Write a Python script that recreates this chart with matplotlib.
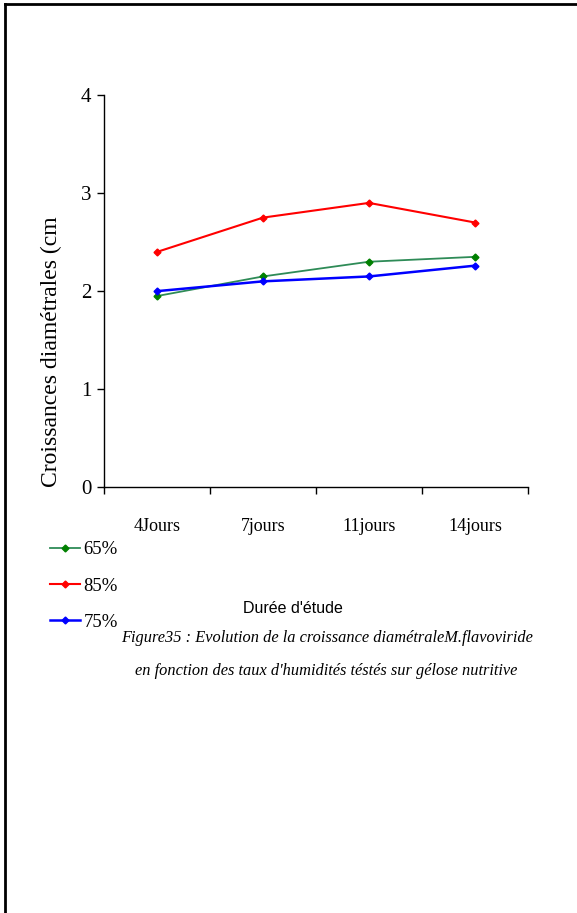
import matplotlib

matplotlib.use("Agg")
from matplotlib import pyplot as plt
from matplotlib.lines import Line2D

days = ["4Jours", "7jours", "11jours", "14jours"]
humidity_65 = [1.95, 2.15, 2.30, 2.35]
humidity_85 = [2.40, 2.75, 2.90, 2.70]
humidity_75 = [2.00, 2.10, 2.15, 2.26]
y_ticks = [0, 1, 2, 3, 4]

SERIF = "Liberation Serif"

figure = plt.figure(figsize=(5.77, 9.13), dpi=100)
axis = figure.add_axes([0.1802, 0.4663, 0.7348, 0.4296])

positions = range(len(days))
axis.plot(positions, humidity_65, color="#2e8b57", linewidth=1.3,
          marker="D", markersize=3.5, markerfacecolor="#008000",
          markeredgecolor="#008000", label="65%")
axis.plot(positions, humidity_85, color="#ff0000", linewidth=1.5,
          marker="D", markersize=3.5, label="85%")
axis.plot(positions, humidity_75, color="#0000ff", linewidth=1.8,
          marker="D", markersize=3.5, label="75%")

axis.set_xlim(-0.5, len(days) - 0.5)
axis.set_ylim(0, 4)
axis.set_yticks(y_ticks)
axis.set_yticklabels([str(t) for t in y_ticks], family=SERIF, fontsize=15)
axis.set_xticks([i - 0.5 for i in range(len(days) + 1)])
axis.set_xticklabels([])
axis.set_xticks(list(positions), minor=True)
axis.set_xticklabels(days, minor=True, family=SERIF, fontsize=13)
axis.tick_params(axis="x", which="minor", length=0, pad=22)
axis.tick_params(axis="x", which="major", direction="out", length=5, width=1)
axis.tick_params(axis="y", direction="out", length=5, width=1, pad=4)

for side in ("top", "right"):
    axis.spines[side].set_visible(False)
for side in ("left", "bottom"):
    axis.spines[side].set_linewidth(1)

axis.set_ylabel("Croissances diamétrales (cm", family=SERIF, fontsize=17)
axis.yaxis.set_label_coords(-0.10, 0.345)

legend = figure.legend(
    loc="upper left", bbox_to_anchor=(0.07, 0.4175), frameon=False,
    prop={"family": SERIF, "size": 13.5}, handlelength=1.6, handletextpad=0.2,
    labelspacing=1.02, borderpad=0,
)

figure.text(0.508, 0.334, "Durée d'étude", ha="center", va="center",
            family="Liberation Sans", fontsize=11.5)
figure.text(0.566, 0.301,
            "Figure35 : Evolution de la croissance diamétraleM.flavoviride",
            ha="center", va="center", family=SERIF, style="italic", fontsize=11.8)
figure.text(0.566, 0.265,
            "en fonction des taux d'humidités téstés sur gélose nutritive",
            ha="center", va="center", family=SERIF, style="italic", fontsize=11.8)

# page border: left and top edges
figure.add_artist(Line2D([0.0095, 0.0095], [0, 0.996], color="black", linewidth=2,
                         transform=figure.transFigure))
figure.add_artist(Line2D([0.0095, 1.0], [0.9956, 0.9956], color="black", linewidth=2,
                         transform=figure.transFigure))

figure.savefig("out.png", dpi=100)
plt.close(figure)
